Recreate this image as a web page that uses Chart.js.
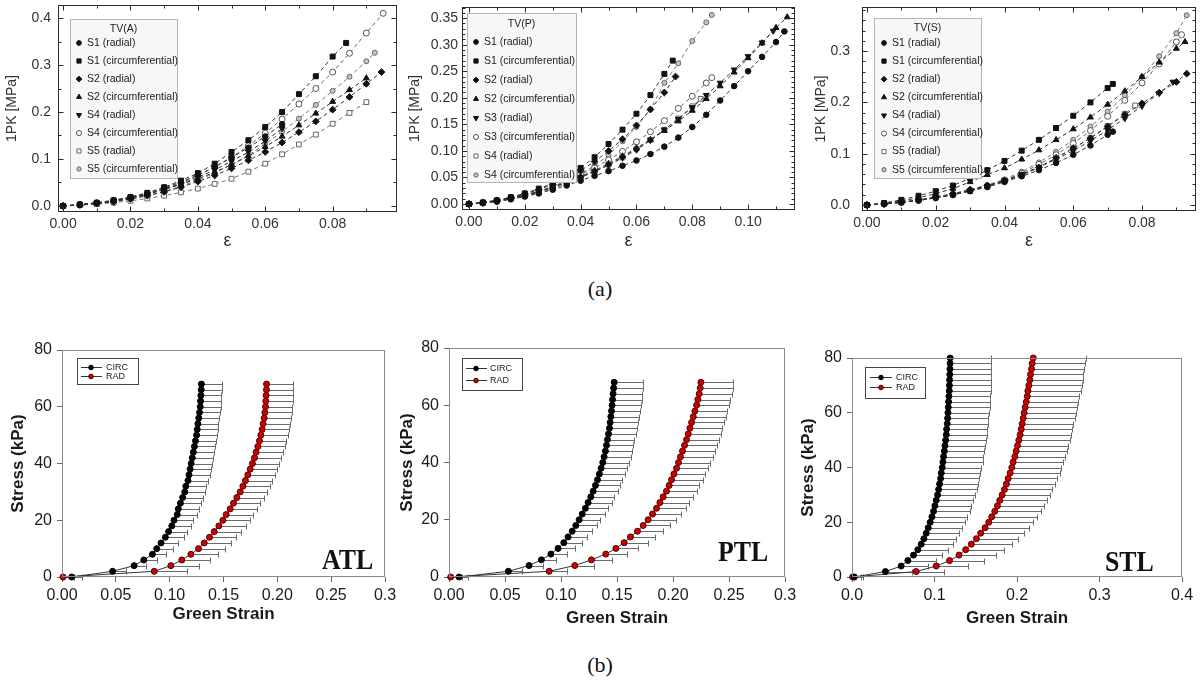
<!DOCTYPE html>
<html><head><meta charset="utf-8">
<script src="https://cdn.jsdelivr.net/npm/chart.js@4.4.1/dist/chart.umd.min.js"></script>
<style>
html,body{margin:0;padding:0;background:#fff;width:1201px;height:686px;overflow:hidden;position:relative;}
canvas{position:absolute;display:block;}
.cap{position:absolute;font-family:"Liberation Serif","DejaVu Serif",serif;font-size:22px;line-height:22px;color:#111;transform:translateX(-50%);}
</style></head><body>
<canvas id="cA" width="405" height="262" style="left:0px;top:0px"></canvas>
<canvas id="cP" width="397" height="262" style="left:405px;top:0px"></canvas>
<canvas id="cS" width="396" height="262" style="left:805px;top:0px"></canvas>
<canvas id="cATL" width="402" height="295" style="left:0px;top:335px"></canvas>
<canvas id="cPTL" width="410" height="295" style="left:392px;top:335px"></canvas>
<canvas id="cSTL" width="409" height="295" style="left:792px;top:335px"></canvas>
<div class="cap" style="left:600px;top:278px">(a)</div>
<div class="cap" style="left:600px;top:654px">(b)</div>
<script>
// ---------------- DATA: top row (a) ----------------
const A_title = 'TV(A)';
const A_labels = ['S1 (radial)','S1 (circumferential)','S2 (radial)','S2 (circumferential)','S4 (radial)','S4 (circumferential)','S5 (radial)','S5 (circumferential)'];
const A_S1_rad  = [[0,0],[0.005,0.003],[0.01,0.007],[0.015,0.012],[0.02,0.019],[0.025,0.027],[0.03,0.038],[0.035,0.051],[0.04,0.066],[0.045,0.083],[0.05,0.103],[0.055,0.124],[0.06,0.148],[0.065,0.174]];
const A_S1_circ = [[0,0],[0.005,0.003],[0.01,0.007],[0.015,0.012],[0.02,0.019],[0.025,0.028],[0.03,0.04],[0.035,0.054],[0.04,0.07],[0.045,0.09],[0.05,0.115],[0.055,0.14],[0.06,0.168],[0.065,0.2],[0.07,0.238],[0.075,0.276],[0.08,0.318],[0.084,0.347]];
const A_S2_rad  = [[0,0],[0.005,0.002],[0.01,0.005],[0.015,0.009],[0.02,0.015],[0.025,0.022],[0.03,0.03],[0.035,0.04],[0.04,0.052],[0.045,0.065],[0.05,0.08],[0.055,0.097],[0.06,0.115],[0.065,0.135],[0.07,0.157],[0.075,0.18],[0.08,0.205],[0.085,0.232],[0.09,0.26],[0.0945,0.285]];
const A_S2_circ = [[0,0],[0.005,0.003],[0.01,0.006],[0.015,0.011],[0.02,0.017],[0.025,0.025],[0.03,0.035],[0.035,0.046],[0.04,0.058],[0.045,0.072],[0.05,0.088],[0.055,0.106],[0.06,0.126],[0.065,0.148],[0.07,0.172],[0.075,0.197],[0.08,0.222],[0.085,0.247],[0.09,0.272]];
const A_S4_rad  = [[0,0],[0.005,0.003],[0.01,0.006],[0.015,0.011],[0.02,0.017],[0.025,0.025],[0.03,0.035],[0.035,0.047],[0.04,0.061],[0.045,0.077],[0.05,0.095],[0.055,0.115],[0.06,0.138],[0.065,0.165]];
const A_S4_circ = [[0,0],[0.005,0.003],[0.01,0.006],[0.015,0.011],[0.02,0.017],[0.025,0.025],[0.03,0.036],[0.035,0.049],[0.04,0.065],[0.045,0.083],[0.05,0.104],[0.055,0.128],[0.06,0.155],[0.065,0.185],[0.07,0.217],[0.075,0.25],[0.08,0.285],[0.085,0.325],[0.09,0.368],[0.095,0.41]];
const A_S5_rad  = [[0,0],[0.005,0.002],[0.01,0.004],[0.015,0.007],[0.02,0.011],[0.025,0.016],[0.03,0.022],[0.035,0.029],[0.04,0.037],[0.045,0.047],[0.05,0.058],[0.055,0.073],[0.06,0.09],[0.065,0.11],[0.07,0.131],[0.075,0.152],[0.08,0.175],[0.085,0.198],[0.09,0.221]];
const A_S5_circ = [[0,0],[0.005,0.002],[0.01,0.005],[0.015,0.009],[0.02,0.015],[0.025,0.022],[0.03,0.031],[0.035,0.042],[0.04,0.055],[0.045,0.07],[0.05,0.088],[0.055,0.108],[0.06,0.132],[0.065,0.158],[0.07,0.186],[0.075,0.215],[0.08,0.245],[0.085,0.275],[0.09,0.308],[0.0925,0.326]];
const A_xTicks = [0,0.02,0.04,0.06,0.08];
const A_xTickLabels = ['0.00','0.02','0.04','0.06','0.08'];
const A_yTicks = [0,0.1,0.2,0.3,0.4];
const A_yTickLabels = ['0.0','0.1','0.2','0.3','0.4'];
const A_xRange = [-0.0015, 0.0991];
const A_yRange = [-0.0128, 0.4277];

const P_title = 'TV(P)';
const P_labels = ['S1 (radial)','S1 (circumferential)','S2 (radial)','S2 (circumferential)','S3 (radial)','S3 (circumferential)','S4 (radial)','S4 (circumferential)'];
const P_S1_rad  = [[0,0],[0.005,0.002],[0.01,0.005],[0.015,0.009],[0.02,0.014],[0.025,0.02],[0.03,0.027],[0.035,0.035],[0.04,0.044],[0.045,0.053],[0.05,0.062],[0.055,0.072],[0.06,0.082],[0.065,0.094],[0.07,0.108],[0.075,0.125],[0.08,0.145],[0.085,0.168],[0.09,0.195],[0.095,0.222],[0.1,0.25],[0.105,0.277],[0.11,0.305],[0.113,0.325]];
const P_S1_circ = [[0,0],[0.005,0.003],[0.01,0.007],[0.015,0.013],[0.02,0.02],[0.025,0.029],[0.03,0.039],[0.035,0.052],[0.04,0.068],[0.045,0.088],[0.05,0.113],[0.055,0.14],[0.06,0.17],[0.065,0.205],[0.07,0.245],[0.073,0.27]];
const P_S2_rad  = [[0,0],[0.005,0.003],[0.01,0.007],[0.015,0.012],[0.02,0.019],[0.025,0.027],[0.03,0.037],[0.035,0.049],[0.04,0.063],[0.045,0.08],[0.05,0.1],[0.055,0.122],[0.06,0.148],[0.065,0.178],[0.07,0.21],[0.074,0.24]];
const P_S2_circ = [[0,0],[0.005,0.002],[0.01,0.006],[0.015,0.011],[0.02,0.017],[0.025,0.024],[0.03,0.032],[0.035,0.041],[0.04,0.052],[0.045,0.063],[0.05,0.076],[0.055,0.09],[0.06,0.105],[0.065,0.121],[0.07,0.138],[0.075,0.156],[0.08,0.176],[0.085,0.198],[0.09,0.222],[0.095,0.248],[0.1,0.275],[0.105,0.303],[0.11,0.332],[0.114,0.352]];
const P_S3_rad  = [[0,0],[0.005,0.002],[0.01,0.005],[0.015,0.01],[0.02,0.016],[0.025,0.023],[0.03,0.031],[0.035,0.04],[0.04,0.05],[0.045,0.061],[0.05,0.073],[0.055,0.087],[0.06,0.102],[0.065,0.12],[0.07,0.14],[0.075,0.16],[0.08,0.182],[0.085,0.205],[0.09,0.228],[0.095,0.253],[0.1,0.278],[0.105,0.304],[0.109,0.326]];
const P_S3_circ = [[0,0],[0.005,0.002],[0.01,0.005],[0.015,0.01],[0.02,0.016],[0.025,0.023],[0.03,0.032],[0.035,0.043],[0.04,0.055],[0.045,0.068],[0.05,0.083],[0.055,0.099],[0.06,0.117],[0.065,0.136],[0.07,0.157],[0.075,0.18],[0.08,0.203],[0.085,0.228],[0.087,0.238]];
const P_S4_rad  = [[0,0],[0.005,0.002],[0.01,0.005],[0.015,0.009],[0.02,0.015],[0.025,0.021],[0.03,0.029],[0.035,0.039],[0.04,0.05],[0.045,0.061],[0.05,0.074],[0.055,0.088],[0.06,0.104],[0.065,0.121],[0.07,0.14],[0.075,0.161],[0.08,0.184],[0.083,0.198]];
const P_S4_circ = [[0,0],[0.005,0.003],[0.01,0.006],[0.015,0.011],[0.02,0.017],[0.025,0.024],[0.03,0.033],[0.035,0.044],[0.04,0.057],[0.045,0.072],[0.05,0.092],[0.055,0.118],[0.06,0.145],[0.065,0.178],[0.07,0.228],[0.075,0.265],[0.08,0.307],[0.085,0.342],[0.087,0.356]];
const P_xTicks = [0,0.02,0.04,0.06,0.08,0.10];
const P_xTickLabels = ['0.00','0.02','0.04','0.06','0.08','0.10'];
const P_yTicks = [0,0.05,0.10,0.15,0.20,0.25,0.30,0.35];
const P_yTickLabels = ['0.00','0.05','0.10','0.15','0.20','0.25','0.30','0.35'];
const P_xRange = [-0.0025, 0.1168];
const P_yRange = [-0.0113, 0.371];

const S_title = 'TV(S)';
const S_labels = ['S1 (radial)','S1 (circumferential)','S2 (radial)','S2 (circumferential)','S4 (radial)','S4 (circumferential)','S5 (radial)','S5 (circumferential)'];
const S_S1_rad  = [[0,0],[0.005,0.002],[0.01,0.005],[0.015,0.009],[0.02,0.014],[0.025,0.02],[0.03,0.027],[0.035,0.035],[0.04,0.045],[0.045,0.056],[0.05,0.068],[0.055,0.082],[0.06,0.098],[0.065,0.116],[0.07,0.137],[0.0715,0.143]];
const S_S1_circ = [[0,0],[0.005,0.004],[0.01,0.01],[0.015,0.018],[0.02,0.027],[0.025,0.038],[0.03,0.052],[0.035,0.068],[0.04,0.086],[0.045,0.106],[0.05,0.127],[0.055,0.15],[0.06,0.174],[0.065,0.2],[0.07,0.228],[0.0715,0.236]];
const S_S2_rad  = [[0,0],[0.005,0.002],[0.01,0.006],[0.015,0.01],[0.02,0.016],[0.025,0.022],[0.03,0.03],[0.035,0.038],[0.04,0.047],[0.045,0.058],[0.05,0.073],[0.055,0.092],[0.06,0.111],[0.065,0.13],[0.07,0.153],[0.075,0.176],[0.08,0.198],[0.085,0.219],[0.09,0.24],[0.093,0.256]];
const S_S2_circ = [[0,0],[0.005,0.003],[0.01,0.008],[0.015,0.014],[0.02,0.022],[0.025,0.032],[0.03,0.045],[0.035,0.059],[0.04,0.072],[0.045,0.089],[0.05,0.107],[0.055,0.127],[0.06,0.148],[0.065,0.171],[0.07,0.196],[0.075,0.222],[0.08,0.25],[0.085,0.278],[0.09,0.305],[0.0925,0.318]];
const S_S4_rad  = [[0,0],[0.005,0.002],[0.01,0.005],[0.015,0.009],[0.02,0.014],[0.025,0.02],[0.03,0.028],[0.035,0.037],[0.04,0.048],[0.045,0.06],[0.05,0.074],[0.055,0.089],[0.06,0.106],[0.065,0.125],[0.07,0.146],[0.075,0.169],[0.08,0.193],[0.085,0.218],[0.089,0.24]];
const S_S4_circ = [[0,0],[0.005,0.002],[0.01,0.005],[0.015,0.009],[0.02,0.014],[0.025,0.02],[0.03,0.028],[0.035,0.037],[0.04,0.048],[0.045,0.062],[0.05,0.079],[0.055,0.098],[0.06,0.12],[0.065,0.145],[0.07,0.173],[0.075,0.204],[0.08,0.238],[0.085,0.275],[0.09,0.318],[0.0915,0.332]];
const S_S5_rad  = [[0,0],[0.005,0.002],[0.01,0.005],[0.015,0.009],[0.02,0.014],[0.025,0.02],[0.03,0.027],[0.035,0.036],[0.04,0.047],[0.045,0.059],[0.05,0.074],[0.055,0.091],[0.06,0.11],[0.065,0.131],[0.07,0.154],[0.075,0.178],[0.078,0.194]];
const S_S5_circ = [[0,0],[0.005,0.002],[0.01,0.005],[0.015,0.009],[0.02,0.014],[0.025,0.021],[0.03,0.03],[0.035,0.039],[0.04,0.05],[0.045,0.065],[0.05,0.083],[0.055,0.104],[0.06,0.127],[0.065,0.153],[0.07,0.182],[0.075,0.214],[0.08,0.25],[0.085,0.29],[0.09,0.335],[0.093,0.37]];
const S_xTicks = [0,0.02,0.04,0.06,0.08];
const S_xTickLabels = ['0.00','0.02','0.04','0.06','0.08'];
const S_yTicks = [0,0.1,0.2,0.3];
const S_yTickLabels = ['0.0','0.1','0.2','0.3'];
const S_xRange = [-0.00145, 0.0957];
const S_yRange = [-0.0117, 0.386];

// ---------------- DATA: bottom row (b) ----------------
const ATL_stress = [0,2,4,6,8,10,12,14,16,18,20,22,24,26,28,30,32,34,36,38,40,42,44,46,48,50,52,54,56,58,60,62,64,66,68];
const ATL_circ = [0.009,0.047,0.067,0.076,0.084,0.088,0.092,0.096,0.099,0.102,0.104,0.107,0.108,0.110,0.112,0.114,0.115,0.117,0.118,0.119,0.120,0.121,0.122,0.123,0.124,0.125,0.1256,0.1262,0.127,0.1277,0.1284,0.1287,0.129,0.1293,0.1295];
const ATL_circErr = [0.01,0.012,0.011,0.012,0.013,0.015,0.016,0.017,0.017,0.018,0.018,0.018,0.019,0.019,0.019,0.019,0.019,0.019,0.019,0.019,0.019,0.019,0.019,0.019,0.019,0.019,0.019,0.019,0.019,0.019,0.019,0.019,0.019,0.019,0.019];
const ATL_rad = [0.001,0.0857,0.1011,0.1113,0.1197,0.1268,0.1321,0.137,0.1414,0.1457,0.1494,0.1525,0.1562,0.1593,0.1624,0.1655,0.168,0.1704,0.1726,0.1748,0.1769,0.1788,0.1803,0.1819,0.1834,0.1847,0.1859,0.1868,0.1878,0.1884,0.189,0.1893,0.1896,0.1899,0.19];
const ATL_radErr = [0.01,0.03,0.026,0.026,0.025,0.025,0.025,0.025,0.025,0.025,0.025,0.025,0.025,0.025,0.025,0.025,0.025,0.025,0.025,0.025,0.025,0.025,0.025,0.025,0.025,0.025,0.025,0.025,0.025,0.025,0.025,0.025,0.025,0.025,0.025];

const PTL_stress = [0,2,4,6,8,10,12,14,16,18,20,22,24,26,28,30,32,34,36,38,40,42,44,46,48,50,52,54,56,58,60,62,64,66,68];
const PTL_circ = [0.009,0.053,0.0715,0.0825,0.091,0.0974,0.1025,0.1063,0.11,0.1132,0.1162,0.119,0.1218,0.1242,0.1266,0.1287,0.1308,0.1326,0.1343,0.1358,0.1373,0.1385,0.1397,0.1406,0.1415,0.1424,0.1433,0.1439,0.1445,0.1451,0.1456,0.146,0.1465,0.147,0.1475];
const PTL_circErr = [0.008,0.012,0.012,0.013,0.014,0.015,0.016,0.017,0.018,0.019,0.019,0.02,0.02,0.021,0.021,0.022,0.022,0.022,0.023,0.023,0.023,0.024,0.024,0.024,0.024,0.025,0.025,0.025,0.025,0.025,0.026,0.026,0.026,0.026,0.026];
const PTL_rad = [0.0015,0.0894,0.1123,0.1272,0.14,0.149,0.1564,0.162,0.1683,0.1734,0.1778,0.1817,0.1853,0.1883,0.1912,0.1942,0.1966,0.1987,0.2008,0.2032,0.2049,0.2067,0.2085,0.2103,0.2121,0.2136,0.2151,0.2166,0.2181,0.2196,0.2211,0.2222,0.2234,0.2243,0.2249];
const PTL_radErr = [0.01,0.016,0.017,0.018,0.019,0.02,0.021,0.022,0.023,0.024,0.025,0.025,0.026,0.026,0.027,0.027,0.027,0.028,0.028,0.028,0.028,0.029,0.029,0.029,0.029,0.029,0.029,0.029,0.029,0.029,0.029,0.029,0.029,0.029,0.029];

const STL_stress = [0,2,4,6,8,10,12,14,16,18,20,22,24,26,28,30,32,34,36,38,40,42,44,46,48,50,52,54,56,58,60,62,64,66,68,70,72,74,76,78,80];
const STL_circ = [0.0028,0.0405,0.0596,0.0677,0.0746,0.0798,0.0839,0.0871,0.09,0.0924,0.0948,0.0969,0.0989,0.1005,0.1021,0.1038,0.105,0.1062,0.1074,0.1082,0.1094,0.1102,0.111,0.1119,0.1127,0.1135,0.1143,0.1147,0.1155,0.1159,0.1163,0.1167,0.1171,0.1175,0.1179,0.1181,0.1183,0.1185,0.1187,0.1189,0.119];
const STL_circErr = [0.01,0.032,0.032,0.034,0.035,0.036,0.038,0.039,0.04,0.041,0.042,0.043,0.044,0.044,0.045,0.045,0.046,0.046,0.047,0.047,0.047,0.048,0.048,0.048,0.048,0.049,0.049,0.049,0.049,0.049,0.05,0.05,0.05,0.05,0.05,0.05,0.05,0.05,0.05,0.05,0.05];
const STL_rad = [0.0008,0.0778,0.1021,0.1183,0.1297,0.1378,0.1447,0.1508,0.156,0.1613,0.1658,0.1694,0.1731,0.1763,0.1791,0.182,0.1848,0.1872,0.1893,0.1917,0.1937,0.1953,0.1974,0.199,0.2006,0.2022,0.2038,0.2051,0.2063,0.2075,0.2087,0.2099,0.2112,0.2124,0.2132,0.2144,0.2156,0.2164,0.2176,0.2184,0.2197];
const STL_radErr = [0.01,0.034,0.038,0.042,0.045,0.047,0.049,0.051,0.052,0.053,0.054,0.055,0.056,0.057,0.057,0.058,0.058,0.059,0.059,0.06,0.06,0.06,0.061,0.061,0.061,0.062,0.062,0.062,0.062,0.063,0.063,0.063,0.063,0.063,0.064,0.064,0.064,0.064,0.064,0.064,0.064];

const B_seriesLabels = ['CIRC','RAD'];
const B_yTicks = [0,20,40,60,80];
const B_yTickLabels = ['0','20','40','60','80'];
const B3_xTicks = [0,0.05,0.10,0.15,0.20,0.25,0.30];
const B3_xTickLabels = ['0.00','0.05','0.10','0.15','0.20','0.25','0.3'];
const B4_xTicks = [0,0.1,0.2,0.3,0.4];
const B4_xTickLabels = ['0.0','0.1','0.2','0.3','0.4'];

// ---------------- rendering ----------------
Chart.defaults.font.family = '"Liberation Sans", Arial, sans-serif';
Chart.defaults.animation = false;

const H = Chart.helpers;
function drawMarker(ctx, st, x, y, r){
  ctx.save();
  ctx.fillStyle = st.fill; ctx.strokeStyle = st.stroke; ctx.lineWidth = 1;
  if (H && H.drawPoint) {
    H.drawPoint(ctx, {pointStyle: st.ps, rotation: st.rot || 0, radius: r || st.r, borderWidth: 1}, x, y);
  } else {
    ctx.beginPath(); ctx.arc(x, y, r || st.r, 0, Math.PI*2); ctx.fill(); ctx.stroke();
  }
  ctx.restore();
}

const frameTicks = {
  id: 'frameTicks',
  afterDatasetsDraw(chart, args, o) {
    const {ctx, chartArea: a, scales: {x, y}} = chart;
    ctx.save();
    ctx.strokeStyle = o.color; ctx.lineWidth = 1;
    const L = Math.round(a.left) + 0.5, R = Math.round(a.right) - 0.5, T = Math.round(a.top) + 0.5, B = Math.round(a.bottom) - 0.5;
    ctx.strokeRect(L, T, R - L, B - T);
    if (o.inward) {
      const minors = (maj, n, s) => {
        const st = (maj[1] - maj[0]) / n; const out = [];
        let v = maj[0] - Math.floor((maj[0] - s.min) / st) * st;
        for (; v <= s.max + 1e-12; v += st) out.push(v);
        return out;
      };
      ctx.beginPath();
      const tickX = (v, len) => { const p = Math.round(x.getPixelForValue(v)) + 0.5; ctx.moveTo(p, B); ctx.lineTo(p, B - len); ctx.moveTo(p, T); ctx.lineTo(p, T + len); };
      const tickY = (v, len) => { const p = Math.round(y.getPixelForValue(v)) + 0.5; ctx.moveTo(L, p); ctx.lineTo(L + len, p); ctx.moveTo(R, p); ctx.lineTo(R - len, p); };
      minors(o.xMajor, o.xN, x).forEach(v => tickX(v, 3));
      o.xMajor.forEach(v => tickX(v, 5));
      minors(o.yMajor, o.yN, y).forEach(v => tickY(v, 3));
      o.yMajor.forEach(v => tickY(v, 5));
      ctx.stroke();
    }
    ctx.restore();
  }
};

const tvLegend = {
  id: 'tvLegend',
  afterDatasetsDraw(chart, args, o) {
    if (!o || !o.box) return;
    const ctx = chart.ctx; const [x1, y1, x2, y2] = o.box;
    ctx.save();
    ctx.fillStyle = '#f7f7f7'; ctx.strokeStyle = '#b5b5b5'; ctx.lineWidth = 1;
    ctx.fillRect(x1, y1, x2 - x1, y2 - y1);
    ctx.strokeRect(x1 + 0.5, y1 + 0.5, x2 - x1, y2 - y1);
    ctx.fillStyle = '#222'; ctx.font = '10.5px "Liberation Sans", Arial, sans-serif';
    ctx.textBaseline = 'middle'; ctx.textAlign = 'center';
    ctx.fillText(o.title, o.titleX, o.titleY);
    ctx.textAlign = 'left';
    chart.data.datasets.forEach((ds, i) => {
      const yy = o.y0 + i * o.dy;
      drawMarker(ctx, ds._st, o.mx, yy, ds._st.r * 0.85);
      ctx.fillStyle = '#222';
      ctx.fillText(ds.label, o.tx, yy);
    });
    ctx.restore();
  }
};

const errBars = {
  id: 'errBars',
  beforeDatasetsDraw(chart) {
    const {ctx, scales: {x, y}} = chart;
    chart.data.datasets.forEach(ds => {
      if (!ds.errX) return;
      ctx.save(); ctx.strokeStyle = '#6a6a6a'; ctx.lineWidth = 1;
      ctx.beginPath();
      ds.data.forEach((p, i) => {
        const e = ds.errX[i]; if (!e) return;
        const px = x.getPixelForValue(p.x), px2 = Math.round(x.getPixelForValue(p.x + e)) + 0.5;
        const py = Math.round(y.getPixelForValue(p.y)) + 0.5;
        ctx.moveTo(px, py); ctx.lineTo(px2, py);
        ctx.moveTo(px2, py - 3); ctx.lineTo(px2, py + 3);
      });
      ctx.stroke(); ctx.restore();
    });
  }
};

const bLegend = {
  id: 'bLegend',
  afterDatasetsDraw(chart, args, o) {
    if (!o || !o.box) return;
    const ctx = chart.ctx; const [x1, y1, x2, y2] = o.box;
    ctx.save();
    ctx.fillStyle = '#fff'; ctx.fillRect(x1, y1, x2 - x1, y2 - y1);
    ctx.strokeStyle = '#444'; ctx.lineWidth = 1; ctx.strokeRect(x1 + 0.5, y1 + 0.5, x2 - x1, y2 - y1);
    ctx.font = '9px "Liberation Sans", Arial, sans-serif'; ctx.textBaseline = 'middle'; ctx.textAlign = 'left';
    chart.data.datasets.forEach((ds, i) => {
      const yy = o.ys[i];
      ctx.strokeStyle = '#333'; ctx.beginPath(); ctx.moveTo(o.lx[0], yy + 0.5); ctx.lineTo(o.lx[1], yy + 0.5); ctx.stroke();
      drawMarker(ctx, {ps: 'circle', fill: ds.pointBackgroundColor, stroke: ds.pointBorderColor, r: 2.3}, o.mx, yy + 0.5, 2.3);
      ctx.fillStyle = '#222'; ctx.fillText(ds.label, o.tx, yy + 0.5);
    });
    ctx.restore();
  }
};

const panelTag = {
  id: 'panelTag',
  afterDraw(chart, args, o) {
    if (!o || !o.text) return;
    const ctx = chart.ctx;
    ctx.save();
    ctx.translate(o.x, o.y); ctx.scale(0.86, 1);
    ctx.font = 'bold 30px "Liberation Serif", "Times New Roman", serif';
    ctx.fillStyle = '#111'; ctx.textBaseline = 'alphabetic'; ctx.textAlign = 'left';
    ctx.fillText(o.text, 0, 0);
    ctx.restore();
  }
};

function fitX(h) { return s => { s.height = h; s.paddingLeft = 0; s.paddingRight = 0; s.paddingTop = 0; s.paddingBottom = 0; }; }
function fitY(w) { return s => { s.width = w; s.paddingLeft = 0; s.paddingRight = 0; s.paddingTop = 0; s.paddingBottom = 0; }; }

const topStyles = [
  {ps: 'circle', r: 2.8, fill: '#111', stroke: '#111', line: '#333'},
  {ps: 'rect', r: 3.5, fill: '#111', stroke: '#111', line: '#333'},
  {ps: 'rectRot', r: 3.4, fill: '#111', stroke: '#111', line: '#333'},
  {ps: 'triangle', r: 3.4, fill: '#111', stroke: '#111', line: '#333'},
  {ps: 'triangle', rot: 180, r: 3.4, fill: '#111', stroke: '#111', line: '#333'},
  {ps: 'circle', r: 3.0, fill: '#fff', stroke: '#555', line: '#666'},
  {ps: 'rect', r: 3.4, fill: '#fff', stroke: '#666', line: '#777'},
  {ps: 'circle', r: 2.5, fill: '#c4c4c4', stroke: '#666', line: '#777'}
];

function topChart(cfg) {
  const {id, box, area} = cfg;
  const datasets = cfg.series.map((d, i) => {
    const st = topStyles[i];
    return {
      label: cfg.labels[i], _st: st,
      data: d.map(p => ({x: p[0], y: p[1]})),
      showLine: true, borderColor: st.line, borderWidth: 1, borderDash: [4, 3],
      pointStyle: st.ps, rotation: st.rot || 0, pointRadius: st.r,
      pointBackgroundColor: st.fill, pointBorderColor: st.stroke, pointBorderWidth: 1
    };
  });
  const lg = cfg.legend;
  return new Chart(document.getElementById(id), {
    type: 'scatter',
    data: {datasets},
    options: {
      responsive: false, animation: false, devicePixelRatio: 1,
      layout: {padding: {left: 0, top: area.t - box.y, right: box.x + box.w - area.r, bottom: 0}},
      plugins: {
        legend: {display: false}, tooltip: {enabled: false},
        frameTicks: {color: '#2b2b2b', inward: true, xMajor: cfg.xTicks, yMajor: cfg.yTicks, xN: cfg.xN, yN: cfg.yN},
        tvLegend: {box: [lg.box[0] - box.x, lg.box[1] - box.y, lg.box[2] - box.x, lg.box[3] - box.y], title: cfg.title,
          titleX: (lg.box[0] + lg.box[2]) / 2 - box.x, titleY: lg.titleY - box.y, y0: lg.y0 - box.y, dy: lg.dy, mx: lg.mx - box.x, tx: lg.tx - box.x}
      },
      scales: {
        x: {type: 'linear', min: cfg.xRange[0], max: cfg.xRange[1],
          afterBuildTicks: s => { s.ticks = cfg.xTicks.map(v => ({value: v})); },
          afterFit: fitX(box.y + box.h - area.b),
          grid: {display: false, drawTicks: false}, border: {display: false},
          ticks: {autoSkip: false, maxRotation: 0, padding: 4, color: '#333', font: {size: 14}, callback: (v, i) => cfg.xTickLabels[i]},
          title: {display: true, text: 'ε', color: '#333', font: {size: 18}, padding: {top: 0, bottom: cfg.xTitlePad}}},
        y: {type: 'linear', min: cfg.yRange[0], max: cfg.yRange[1],
          afterBuildTicks: s => { s.ticks = cfg.yTicks.map(v => ({value: v})); },
          afterFit: fitY(area.l - box.x),
          grid: {display: false, drawTicks: false}, border: {display: false},
          ticks: {autoSkip: false, padding: cfg.yTickPad, color: '#333', font: {size: 14}, callback: (v, i) => cfg.yTickLabels[i]},
          title: {display: true, text: '1PK [MPa]', color: '#333', font: {size: 14}, padding: {top: cfg.yTitlePad, bottom: 0}}}
      }
    },
    plugins: [frameTicks, tvLegend]
  });
}

topChart({id: 'cA', box: {x: 0, y: 0, w: 405, h: 262}, area: {l: 58, t: 5, r: 397, b: 212},
  series: [A_S1_rad, A_S1_circ, A_S2_rad, A_S2_circ, A_S4_rad, A_S4_circ, A_S5_rad, A_S5_circ], labels: A_labels, title: A_title,
  xRange: A_xRange, yRange: A_yRange, xTicks: A_xTicks, xTickLabels: A_xTickLabels, yTicks: A_yTicks, yTickLabels: A_yTickLabels,
  xN: 2, yN: 2, xTitlePad: 10, yTitlePad: 4, yTickPad: 7,
  legend: {box: [70, 19, 177, 178], titleY: 29, y0: 43, dy: 18, mx: 79, tx: 87}});

topChart({id: 'cP', box: {x: 405, y: 0, w: 397, h: 262}, area: {l: 462, t: 7, r: 795, b: 210},
  series: [P_S1_rad, P_S1_circ, P_S2_rad, P_S2_circ, P_S3_rad, P_S3_circ, P_S4_rad, P_S4_circ], labels: P_labels, title: P_title,
  xRange: P_xRange, yRange: P_yRange, xTicks: P_xTicks, xTickLabels: P_xTickLabels, yTicks: P_yTicks, yTickLabels: P_yTickLabels,
  xN: 2, yN: 5, xTitlePad: 10, yTitlePad: 2, yTickPad: 4,
  legend: {box: [467, 13, 576, 182], titleY: 24, y0: 42, dy: 19, mx: 476, tx: 484}});

topChart({id: 'cS', box: {x: 805, y: 0, w: 396, h: 262}, area: {l: 862, t: 7, r: 1197, b: 211},
  series: [S_S1_rad, S_S1_circ, S_S2_rad, S_S2_circ, S_S4_rad, S_S4_circ, S_S5_rad, S_S5_circ], labels: S_labels, title: S_title,
  xRange: S_xRange, yRange: S_yRange, xTicks: S_xTicks, xTickLabels: S_xTickLabels, yTicks: S_yTicks, yTickLabels: S_yTickLabels,
  xN: 2, yN: 5, xTitlePad: 10, yTitlePad: 8, yTickPad: 12,
  legend: {box: [874, 18, 981, 178], titleY: 28, y0: 43, dy: 18.1, mx: 884, tx: 892}});

function bottomChart(cfg) {
  const {id, box, area} = cfg;
  const mk = (xs, errs, i) => ({
    label: B_seriesLabels[i],
    data: cfg.stress.map((s, k) => ({x: xs[k], y: s})),
    errX: errs, showLine: true, borderColor: '#333', borderWidth: 1,
    pointStyle: 'circle', pointRadius: 3,
    pointBackgroundColor: i === 0 ? '#050505' : '#d00000',
    pointBorderColor: i === 0 ? '#000' : '#4a0000', pointBorderWidth: 1, clip: false
  });
  const lg = cfg.legend;
  return new Chart(document.getElementById(id), {
    type: 'scatter',
    data: {datasets: [mk(cfg.circ, cfg.circErr, 0), mk(cfg.rad, cfg.radErr, 1)]},
    options: {
      responsive: false, animation: false, devicePixelRatio: 1,
      layout: {padding: {left: 0, top: area.t - box.y, right: box.x + box.w - area.r, bottom: 0}},
      plugins: {
        legend: {display: false}, tooltip: {enabled: false},
        frameTicks: {color: '#8a8a8a', inward: false},
        bLegend: {box: [lg.box[0] - box.x, lg.box[1] - box.y, lg.box[2] - box.x, lg.box[3] - box.y],
          ys: lg.ys.map(v => v - box.y), lx: [lg.lx[0] - box.x, lg.lx[1] - box.x], mx: lg.mx - box.x, tx: lg.tx - box.x},
        panelTag: {text: cfg.tag, x: cfg.tagPos[0] - box.x, y: cfg.tagPos[1] - box.y}
      },
      scales: {
        x: {type: 'linear', min: cfg.xRange[0], max: cfg.xRange[1],
          afterBuildTicks: s => { s.ticks = cfg.xTicks.map(v => ({value: v})); },
          afterFit: fitX(box.y + box.h - area.b),
          grid: {display: true, drawOnChartArea: false, drawTicks: true, tickLength: 5, color: '#666'}, border: {display: false},
          ticks: {autoSkip: false, maxRotation: 0, padding: 4, color: '#1a1a1a', font: {size: 16}, callback: (v, i) => cfg.xTickLabels[i]},
          title: {display: true, text: 'Green Strain', color: '#1a1a1a', font: {size: 17, weight: 'bold'}, padding: {top: 0, bottom: cfg.xTitlePad}}},
        y: {type: 'linear', min: 0, max: 80,
          afterBuildTicks: s => { s.ticks = B_yTicks.map(v => ({value: v})); },
          afterFit: fitY(area.l - box.x),
          grid: {display: true, drawOnChartArea: false, drawTicks: true, tickLength: 5, color: '#666'}, border: {display: false},
          ticks: {autoSkip: false, padding: 5, color: '#1a1a1a', font: {size: 16}, callback: (v, i) => B_yTickLabels[i]},
          title: {display: true, text: 'Stress (kPa)', color: '#1a1a1a', font: {size: 17, weight: 'bold'}, padding: {top: cfg.yTitlePad, bottom: 0}}}
      }
    },
    plugins: [errBars, frameTicks, bLegend, panelTag]
  });
}

bottomChart({id: 'cATL', box: {x: 0, y: 335, w: 402, h: 295}, area: {l: 62, t: 350, r: 385, b: 577},
  stress: ATL_stress, circ: ATL_circ, circErr: ATL_circErr, rad: ATL_rad, radErr: ATL_radErr,
  xRange: [0, 0.3], xTicks: B3_xTicks, xTickLabels: B3_xTickLabels, xTitlePad: 5, yTitlePad: 8,
  tag: 'ATL', tagPos: [322, 569],
  legend: {box: [77, 358, 138, 384], ys: [367, 376], lx: [81, 102], mx: 91, tx: 106}});

bottomChart({id: 'cPTL', box: {x: 392, y: 335, w: 410, h: 295}, area: {l: 449, t: 348, r: 785, b: 577},
  stress: PTL_stress, circ: PTL_circ, circErr: PTL_circErr, rad: PTL_rad, radErr: PTL_radErr,
  xRange: [0, 0.3], xTicks: B3_xTicks, xTickLabels: B3_xTickLabels, xTitlePad: 1, yTitlePad: 5,
  tag: 'PTL', tagPos: [718, 561],
  legend: {box: [462, 358, 522, 390], ys: [368, 380], lx: [466, 487], mx: 476, tx: 490}});

bottomChart({id: 'cSTL', box: {x: 792, y: 335, w: 409, h: 295}, area: {l: 852, t: 358, r: 1182, b: 577},
  stress: STL_stress, circ: STL_circ, circErr: STL_circErr, rad: STL_rad, radErr: STL_radErr,
  xRange: [0, 0.4], xTicks: B4_xTicks, xTickLabels: B4_xTickLabels, xTitlePad: 1, yTitlePad: 6,
  tag: 'STL', tagPos: [1105, 571],
  legend: {box: [865, 367, 925, 398], ys: [377, 387], lx: [870, 892], mx: 881, tx: 896}});
</script>
</body></html>
